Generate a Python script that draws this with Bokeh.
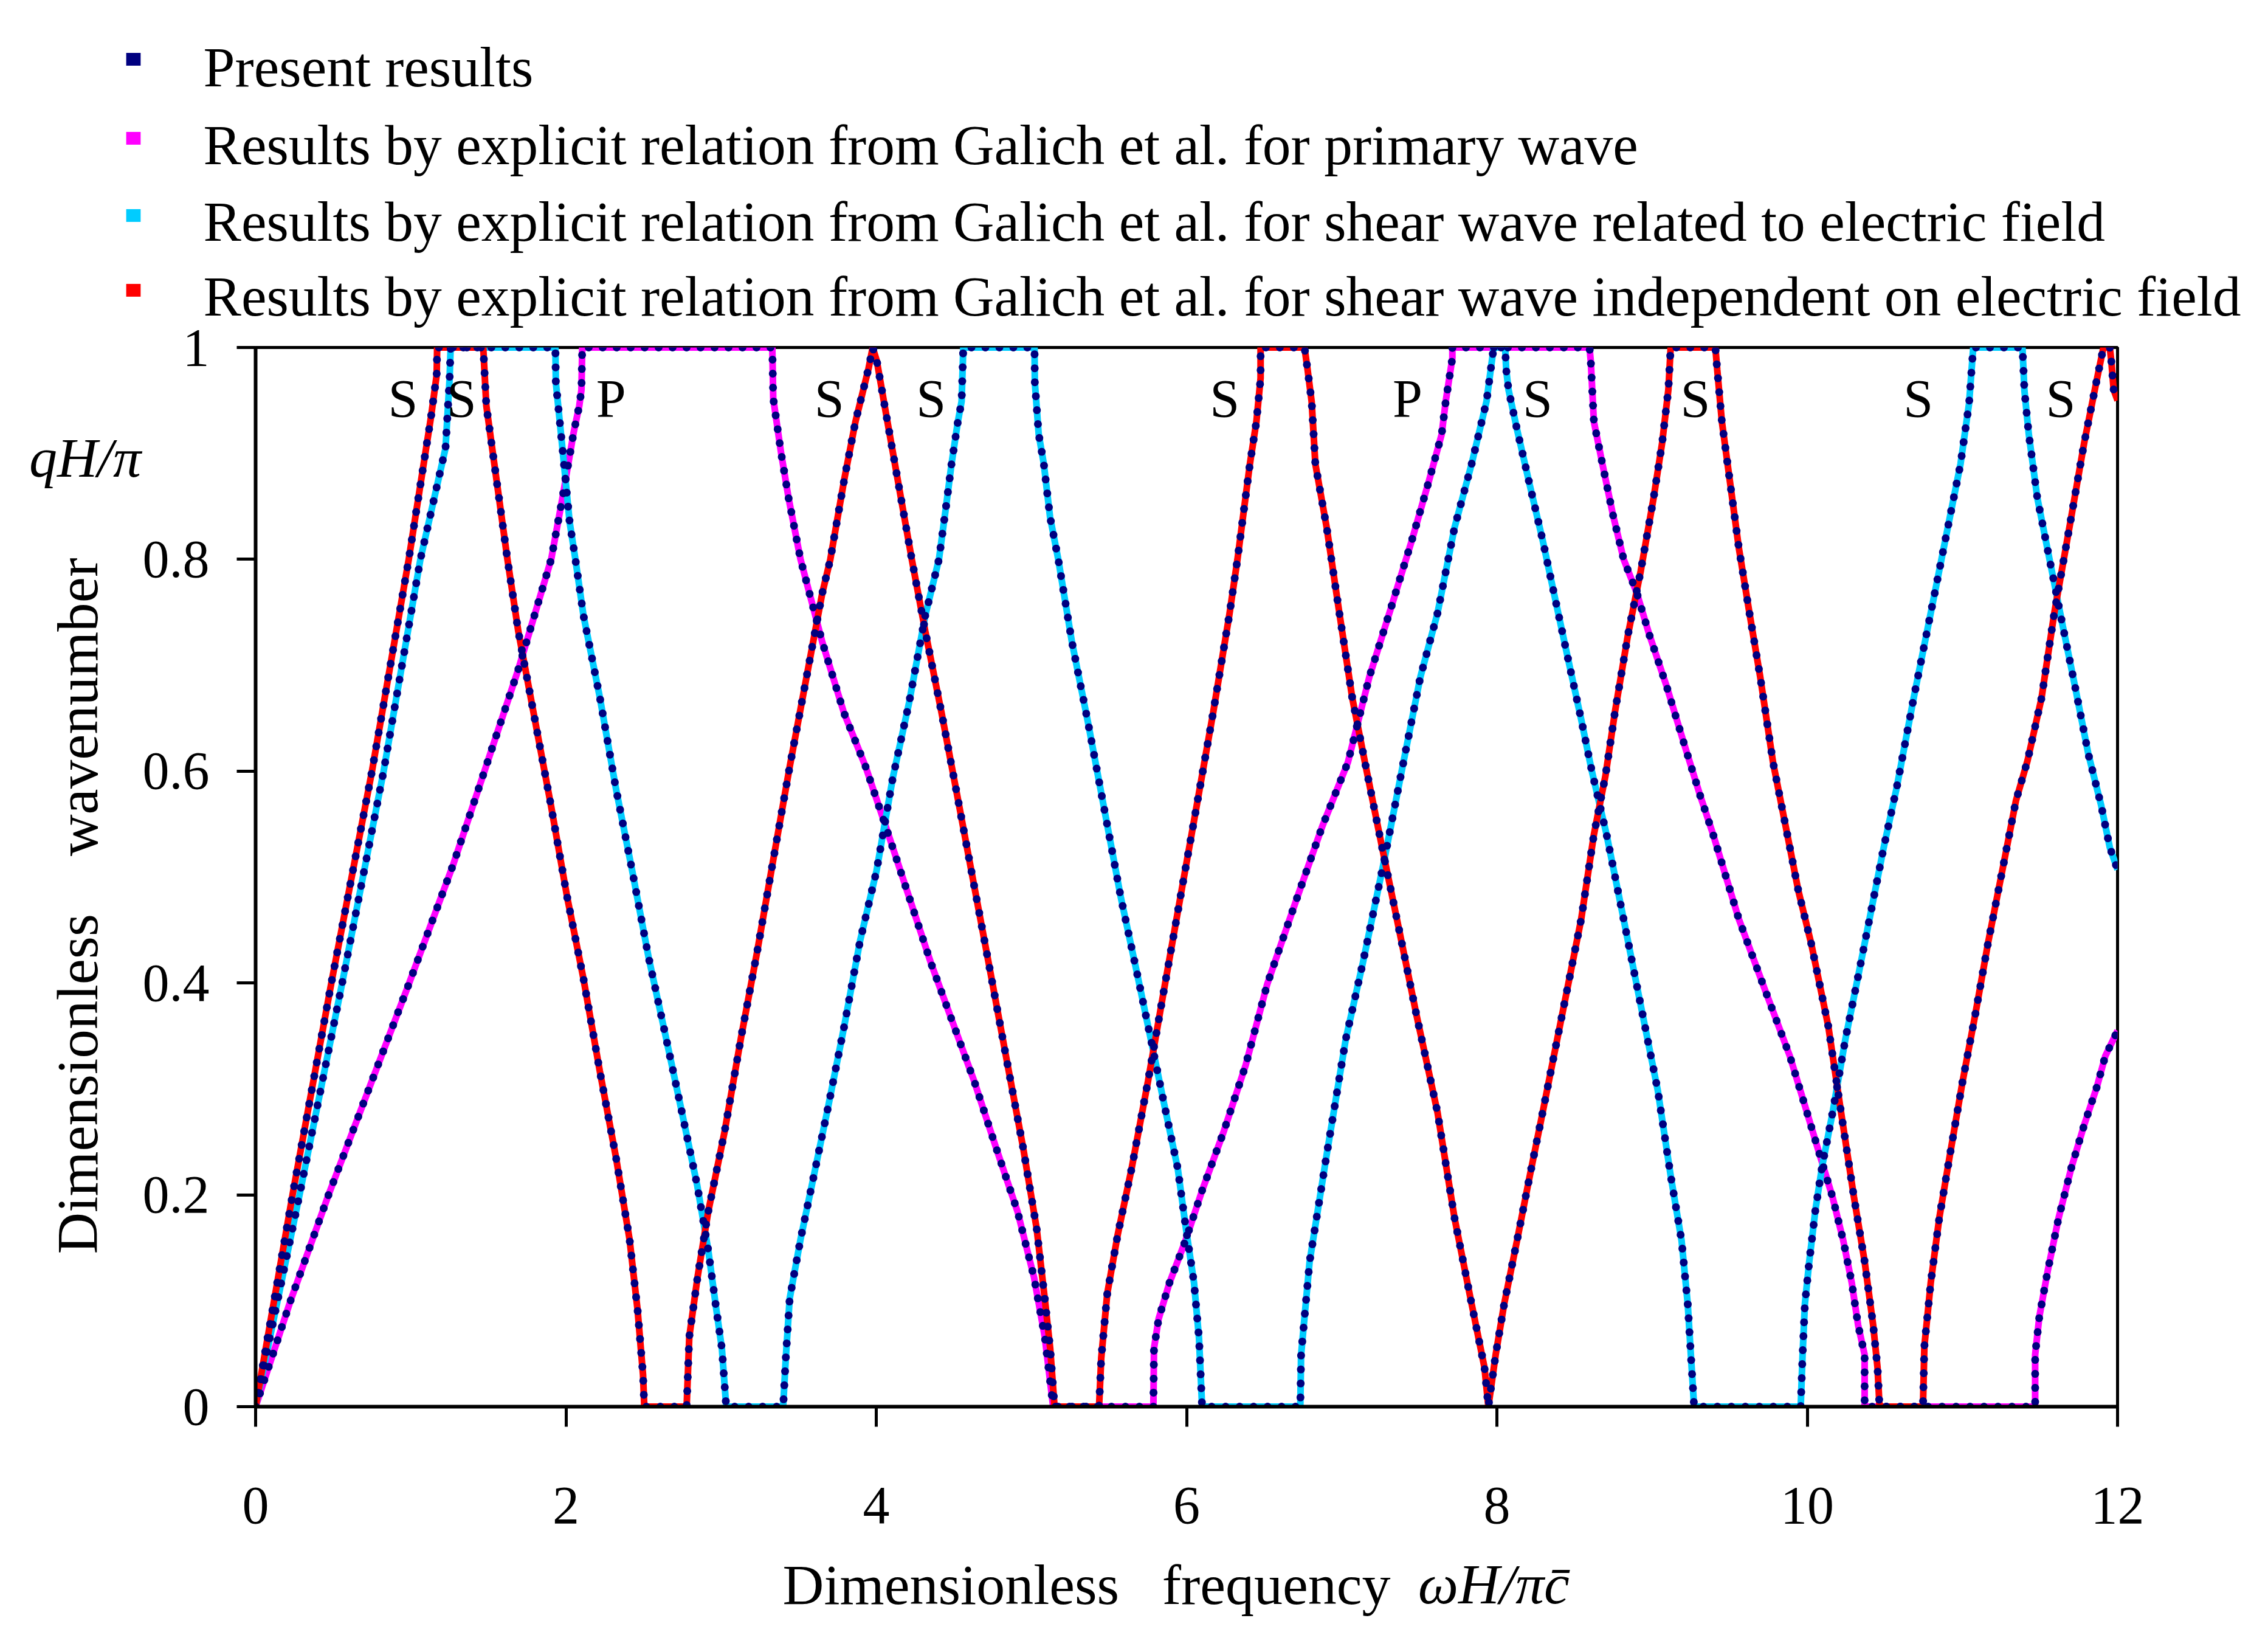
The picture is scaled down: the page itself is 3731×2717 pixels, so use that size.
from bokeh.plotting import figure
from bokeh.models import ColumnDataSource, FixedTicker, Label, LinearAxis
from bokeh.core.properties import value
from bokeh.embed import file_html
from bokeh.resources import INLINE

# ---------------- data: (frequency, wavenumber) ----------------
# shear wave independent on electric field (red)
red_pts = [(0, 0), (0.238, 0.2), (0.488, 0.4), (0.75, 0.6), (0.987, 0.8), (1.13, 0.934), (1.167, 0.974), (1.17, 1.0),
           (1.467, 1.0), (1.487, 0.945), (1.623, 0.8), (1.693, 0.732), (1.798, 0.65), (1.903, 0.568), (2.008, 0.481),
           (2.113, 0.404), (2.218, 0.317), (2.323, 0.235), (2.41, 0.158), (2.462, 0.091), (2.497, 0.03), (2.505, 0),
           (2.778, 0), (2.795, 0.066), (2.848, 0.122), (2.917, 0.184), (3.023, 0.26), (3.128, 0.348), (3.233, 0.43),
           (3.337, 0.517), (3.442, 0.604), (3.547, 0.686), (3.652, 0.768), (3.704, 0.8), (3.797, 0.878), (3.866, 0.93),
           (3.95, 0.98), (3.977, 1.0),
           (4.004, 0.987), (4.072, 0.93), (4.229, 0.8), (4.316, 0.732), (4.421, 0.655), (4.527, 0.573), (4.632, 0.491),
           (4.737, 0.409), (4.841, 0.327), (4.946, 0.245), (5.034, 0.168), (5.086, 0.102), (5.121, 0.055), (5.149, 0),
           (5.436, 0), (5.45, 0.046), (5.489, 0.107), (5.557, 0.163), (5.646, 0.225), (5.751, 0.307), (5.855, 0.394),
           (5.96, 0.481), (6.066, 0.568), (6.171, 0.655), (6.275, 0.747), (6.328, 0.8), (6.408, 0.89), (6.45, 0.93),
           (6.477, 0.971), (6.477, 1.0),
           (6.76, 1.0), (6.78, 0.979), (6.806, 0.949), (6.83, 0.89), (6.903, 0.83), (6.985, 0.749), (7.068, 0.669),
           (7.15, 0.608), (7.26, 0.528), (7.37, 0.45), (7.48, 0.371), (7.617, 0.278), (7.727, 0.178), (7.837, 0.097),
           (7.92, 0.037), (7.945, 0),
           (7.992, 0.049), (8.047, 0.097), (8.13, 0.157), (8.212, 0.218), (8.295, 0.278), (8.378, 0.339), (8.46, 0.399),
           (8.543, 0.46), (8.625, 0.54), (8.70, 0.596), (8.762, 0.657), (8.845, 0.729), (8.927, 0.789), (9.01, 0.858),
           (9.065, 0.91), (9.105, 0.96), (9.12, 1.0),
           (9.408, 1.0), (9.42, 0.979), (9.45, 0.93), (9.505, 0.87), (9.56, 0.81), (9.628, 0.749), (9.697, 0.689),
           (9.78, 0.608), (9.861, 0.548), (9.943, 0.487), (10.026, 0.437), (10.136, 0.359), (10.218, 0.278),
           (10.301, 0.198), (10.37, 0.137), (10.425, 0.077), (10.453, 0.037), (10.466, 0),
           (10.746, 0), (10.755, 0.057), (10.796, 0.117), (10.851, 0.178), (10.92, 0.238), (11.0, 0.306), (11.084, 0.371),
           (11.167, 0.439), (11.249, 0.50), (11.345, 0.572), (11.42, 0.61), (11.51, 0.669), (11.592, 0.749),
           (11.704, 0.842), (11.785, 0.91), (11.867, 0.97), (11.909, 1.0),
           (11.95, 1.0), (11.96, 0.987), (11.975, 0.96), (12.0, 0.95)]

# shear wave related to electric field (cyan)
cyan_pts = [(0, 0), (0.283, 0.2), (0.558, 0.4), (0.825, 0.6), (1.062, 0.8), (1.224, 0.905), (1.25, 0.97), (1.257, 1.0),
            (1.932, 1.0), (1.935, 0.967), (1.98, 0.901), (2.024, 0.835), (2.061, 0.8), (2.113, 0.747), (2.218, 0.67),
            (2.323, 0.583), (2.427, 0.506), (2.533, 0.424), (2.638, 0.353), (2.743, 0.281), (2.846, 0.209),
            (2.917, 0.148), (2.97, 0.091), (3.005, 0.055), (3.033, 0),
            (3.40, 0), (3.417, 0.046), (3.442, 0.102), (3.512, 0.158), (3.599, 0.219), (3.687, 0.281), (3.792, 0.358),
            (3.896, 0.44), (4.002, 0.506), (4.107, 0.594), (4.212, 0.665), (4.316, 0.747), (4.404, 0.8), (4.45, 0.85),
            (4.485, 0.89), (4.526, 0.93), (4.55, 0.949), (4.561, 1.0),
            (5.02, 1.0), (5.022, 0.967), (5.047, 0.918), (5.08, 0.89), (5.12, 0.84), (5.173, 0.8), (5.261, 0.722),
            (5.366, 0.645), (5.471, 0.563), (5.576, 0.481), (5.681, 0.409), (5.768, 0.348), (5.855, 0.286),
            (5.943, 0.225), (5.996, 0.168), (6.048, 0.117), (6.08, 0.065), (6.10, 0),
            (6.733, 0), (6.738, 0.049), (6.793, 0.137), (6.903, 0.238), (7.026, 0.347), (7.136, 0.419), (7.274, 0.516),
            (7.397, 0.608), (7.507, 0.689), (7.617, 0.749), (7.727, 0.83), (7.837, 0.89), (7.933, 0.949), (7.979, 1.0),
            (8.053, 1.0), (8.06, 0.979), (8.075, 0.96), (8.13, 0.9225), (8.212, 0.87), (8.295, 0.818), (8.378, 0.761),
            (8.46, 0.705), (8.543, 0.649), (8.612, 0.6), (8.707, 0.54), (8.817, 0.46), (8.927, 0.379), (9.037, 0.2985),
            (9.12, 0.218), (9.19, 0.157), (9.23, 0.097), (9.25, 0.049), (9.271, 0),
            (9.958, 0), (9.97, 0.049), (9.985, 0.097), (10.013, 0.137), (10.053, 0.186), (10.095, 0.226),
            (10.164, 0.278), (10.246, 0.347), (10.329, 0.407), (10.411, 0.4675), (10.493, 0.528), (10.576, 0.584),
            (10.686, 0.669), (10.823, 0.769), (10.906, 0.83), (10.988, 0.89), (11.043, 0.947), (11.07, 1.0),
            (11.387, 1.0), (11.40, 0.959), (11.428, 0.918), (11.483, 0.858), (11.565, 0.7975), (11.647, 0.737),
            (11.73, 0.677), (11.812, 0.616), (11.894, 0.568), (11.95, 0.528), (12.0, 0.507)]

# primary wave (magenta)
mag_pts = [(0, 0), (0.225, 0.1), (0.47, 0.2), (0.99, 0.4), (1.274, 0.512), (1.475, 0.6), (1.693, 0.696), (1.905, 0.8),
           (1.98, 0.86), (2.05, 0.92), (2.086, 0.945), (2.1, 0.96), (2.105, 1.0),
           (3.33, 1.0), (3.336, 0.952), (3.386, 0.901), (3.436, 0.857), (3.512, 0.8), (3.652, 0.722), (3.792, 0.655),
           (3.932, 0.604), (4.072, 0.543), (4.212, 0.481), (4.352, 0.419), (4.492, 0.363), (4.632, 0.307),
           (4.771, 0.245), (4.911, 0.184), (5.017, 0.122), (5.086, 0.066), (5.14, 0),
           (5.786, 0), (5.79, 0.055), (5.82, 0.083), (5.89, 0.117), (5.996, 0.158), (6.10, 0.204), (6.24, 0.26),
           (6.38, 0.322), (6.52, 0.399), (6.711, 0.48), (6.875, 0.548), (7.04, 0.6085), (7.178, 0.689), (7.315, 0.753),
           (7.452, 0.818), (7.562, 0.874), (7.644, 0.918), (7.67, 0.949), (7.713, 0.99), (7.713, 1.0),
           (8.597, 1.0), (8.605, 0.987), (8.625, 0.93), (8.68, 0.89), (8.748, 0.842), (8.817, 0.8), (8.9, 0.769),
           (8.982, 0.729), (9.092, 0.681), (9.202, 0.628), (9.312, 0.576), (9.394, 0.54), (9.56, 0.46), (9.724, 0.395),
           (9.888, 0.331), (9.998, 0.278), (10.08, 0.238), (10.163, 0.198), (10.232, 0.157), (10.287, 0.117),
           (10.328, 0.077), (10.37, 0.049), (10.37, 0),
           (11.469, 0), (11.469, 0.049), (11.496, 0.085), (11.551, 0.129), (11.62, 0.178), (11.703, 0.226),
           (11.785, 0.266), (11.867, 0.302), (11.921, 0.331), (12.0, 0.355)]

# mode labels
mode_x = [0.95, 1.327, 2.291, 3.697, 4.353, 6.246, 7.424, 8.262, 9.279, 10.716, 11.634]
mode_y = [0.952] * 11
mode_text = ["S", "S", "P", "S", "S", "S", "P", "S", "S", "S", "S"]

x_ticks = [0, 2, 4, 6, 8, 10, 12]
y_ticks = [0, 0.2, 0.4, 0.6, 0.8, 1]
y_tick_labels = ["0", "0.2", "0.4", "0.6", "0.8", "1"]

legend_labels = [
    "Present results",
    "Results by explicit relation from Galich et al. for primary wave",
    "Results by explicit relation from Galich et al. for shear wave related to electric field",
    "Results by explicit relation from Galich et al. for shear wave independent on electric field",
]

# ---------------- styling ----------------
RED = "#FF0000"
CYAN = "#00CCFF"
MAG = "#FF00FF"
NAVY = "#000080"
FONT = "Liberation Serif"
NB = "\u00a0"

FRAME_W, FRAME_H = 3063, 1742
BORDER_L, BORDER_T = 420, 571
BORDER_R = 3715 - BORDER_L - FRAME_W

p = figure(frame_width=FRAME_W, frame_height=FRAME_H,
           x_range=(0, 12), y_range=(0, 1),
           output_backend="svg", toolbar_location=None,
           min_border_left=BORDER_L, min_border_top=BORDER_T,
           min_border_right=BORDER_R, min_border_bottom=0)
p.xgrid.visible = False
p.ygrid.visible = False
p.outline_line_color = "black"
p.outline_line_width = 5
p.background_fill_color = "white"


def src(pts):
    return ColumnDataSource(dict(x=[a for a, _ in pts], y=[b for _, b in pts]))


src_m, src_c, src_r = src(mag_pts), src(cyan_pts), src(red_pts)

p.line("x", "y", source=src_m, line_color=MAG, line_width=11)
p.line("x", "y", source=src_c, line_color=CYAN, line_width=11)
p.line("x", "y", source=src_r, line_color=RED, line_width=11)
for s in (src_m, src_c, src_r):
    p.line("x", "y", source=s, line_color=NAVY, line_width=13,
           line_dash="0 23", line_cap="round")

p.text(x=mode_x, y=mode_y, text=mode_text, text_font=value(FONT),
       text_font_size="88px", text_align="center", text_baseline="middle",
       text_color="black")

# axes
xa = p.xaxis[0]
xa.ticker = FixedTicker(ticks=x_ticks)
ya = p.yaxis[0]
ya.ticker = FixedTicker(ticks=y_ticks)
ya.major_label_overrides = {t: l for t, l in zip(y_ticks, y_tick_labels)}
for ax in (xa, ya):
    ax.axis_line_width = 6
    ax.axis_line_color = "black"
    ax.major_tick_line_width = 5
    ax.major_tick_in = 0
    ax.minor_tick_line_color = None
    ax.major_label_text_font = FONT
    ax.major_label_text_font_size = "88px"
    ax.major_label_text_color = "black"
    ax.axis_label_text_font = FONT
    ax.axis_label_text_font_style = "normal"
    ax.axis_label_text_color = "black"
    ax.axis_label_text_font_size = "94px"
xa.major_tick_out = 33
xa.major_label_standoff = 100
xa.axis_label = "Dimensionless" + NB * 3 + "frequency" + NB * 14
xa.axis_label_standoff = 46
ya.major_tick_out = 31
ya.major_label_standoff = 45
ya.axis_label = "Dimensionless" + NB * 4 + "wavenumber" + NB * 4
ya.axis_label_text_font_size = "95px"
ya.axis_label_standoff = 51

# second, bare x axis that only carries the italic symbol part of the title
xa2 = LinearAxis(ticker=FixedTicker(ticks=[]), axis_line_color=None,
                 major_tick_line_color=None, minor_tick_line_color=None,
                 major_tick_out=0, major_tick_in=0, major_label_standoff=0,
                 axis_label=NB * 43 + "\u03c9H/\u03c0c\u0304",
                 axis_label_text_font=FONT, axis_label_text_font_size="94px",
                 axis_label_text_font_style="italic", axis_label_text_color="black",
                 axis_label_standoff=-108)
p.add_layout(xa2, "below")

# y symbol next to the y axis
p.add_layout(Label(x=-1.099, y=0.896, text="qH/\u03c0",
                   text_font=FONT, text_font_size="92px", text_font_style="italic",
                   text_baseline="middle", text_align="center", text_color="black"),
             "right")

# legend (square key + text), placed above the frame
leg_colors = [NAVY, MAG, CYAN, RED]
leg_key_x = -0.7875
leg_key_y = [1.2721, 1.1975, 1.1246, 1.054]
leg_text_x = -0.3365
leg_text_y = [1.2646, 1.1911, 1.1188, 1.0482]
for lab, col, ky, ty in zip(legend_labels, leg_colors, leg_key_y, leg_text_y):
    p.add_layout(Label(x=leg_key_x, y=ky, text=NB * 5, text_font=FONT,
                       text_font_size="19px", text_align="center",
                       text_baseline="middle", background_fill_color=col,
                       text_color=col), "above")
    p.add_layout(Label(x=leg_text_x, y=ty, text=lab, text_font=FONT,
                       text_font_size="93.5px", text_align="left",
                       text_baseline="alphabetic", text_color="black"), "above")

open("out.html", "w").write(file_html(p, INLINE))
